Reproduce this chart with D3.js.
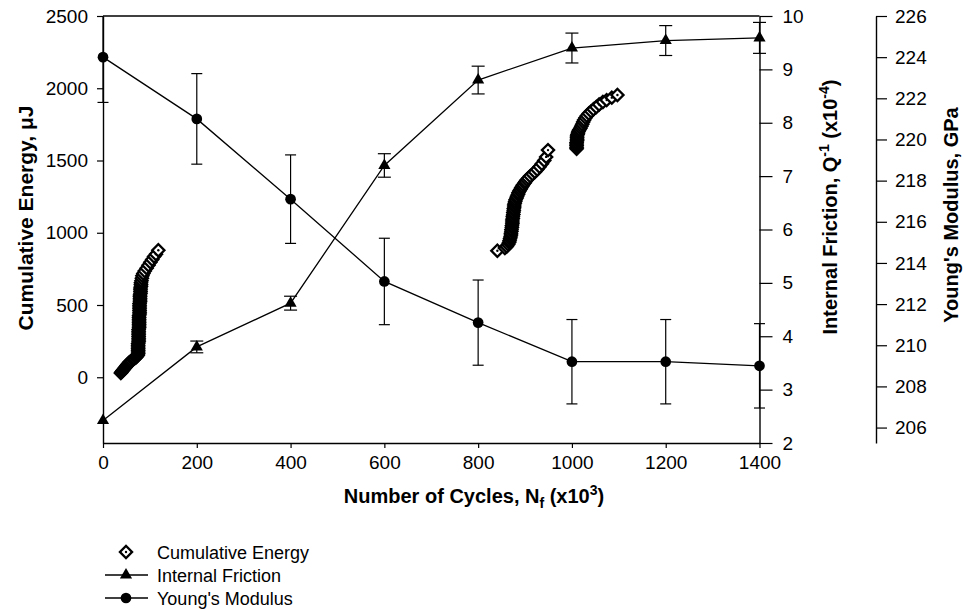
<!DOCTYPE html>
<html>
<head>
<meta charset="utf-8">
<script src="https://cdn.jsdelivr.net/npm/d3@7"></script>
<style>
  body { margin: 0; background: #fff; }
  svg text { font-family: "Liberation Sans", Arial, sans-serif; fill: #000; }
</style>
</head>
<body>
<svg id="chart" width="964" height="609"></svg>
<script>
// test points at each cycle count (x10^3)
const cycles = [0, 200, 400, 600, 800, 1000, 1200, 1400];
const frictionVals = [2.42, 3.80, 4.62, 7.20, 8.80, 9.40, 9.54, 9.59];
const frictionErr = [0, 0.11, 0.13, 0.22, 0.26, 0.28, 0.28, 0.29];
const modulusVals = [224.0, 221.0, 217.1, 213.1, 211.1, 209.2, 209.2, 209.0];
const modulusErr = [2.2, 2.2, 2.15, 2.1, 2.07, 2.05, 2.05, 2.05];

// cumulative energy (cycles x10^3, uJ), three bursts
const energyRun1 = [
  [38,30],[40,38],[42,46],[44,54],[46,62],[48,70],[50,78],[52,86],[54,94],[56,102],
  [58,108],[61,115],[64,122],[67,129],[70,136],[72,143],[74,152],
  [75,162],[75,174],[75,186],[75,198],[75,210],[75,222],[75,234],[76,246],[76,258],[76,270],
  [76,282],[76,294],[76,306],[76,318],[76,330],[77,342],[77,354],[77,366],[77,378],[77,390],
  [77,402],[77,414],[77,426],[78,438],[78,450],[78,462],[78,474],[78,486],[78,498],[78,510],
  [79,522],[79,534],[79,546],[79,558],[79,570],[80,582],[80,594],[80,606],[80,618],[81,630],
  [81,642],[81,654],[82,668],[83,685],[84,702],[86,718],[89,735],[93,755],[97,775],[101,795],
  [105,815],[109,835],[113,852],[118,879]
];
const energyRun2 = [
  [841,875],[857,895],[861,905],[864,918],[866,932],[867,945],[868,958],[869,971],[870,984],
  [870,997],[871,1010],[871,1023],[872,1036],[872,1049],[873,1062],[873,1075],[873,1088],
  [874,1101],[874,1114],[875,1127],[875,1140],[876,1153],[876,1166],[877,1179],[877,1192],
  [878,1205],[879,1217],[880,1229],[882,1241],[883,1253],[885,1265],[886,1277],[888,1289],
  [890,1300],[892,1311],[894,1322],[896,1333],[899,1344],[901,1355],[904,1366],[907,1378],
  [911,1392],[916,1406],[921,1421],[926,1438],[931,1457],[936,1478],[941,1500],[945,1525],
  [949,1572]
];
const energyRun3 = [
  [1010,1581],[1010,1592],[1010,1603],[1010,1614],[1010,1625],[1011,1636],[1011,1647],
  [1011,1658],[1011,1669],[1012,1680],[1013,1691],[1014,1702],[1016,1713],[1018,1724],
  [1020,1737],[1022,1751],[1024,1766],[1026,1780],[1029,1795],[1032,1810],[1036,1825],
  [1041,1840],[1046,1855],[1052,1870],[1058,1887],[1066,1905],[1074,1918],[1085,1935],
  [1097,1953]
];

const energyTicks = [0, 500, 1000, 1500, 2000, 2500];
const frictionTicks = [2, 3, 4, 5, 6, 7, 8, 9, 10];
const modulusTicks = [206, 208, 210, 212, 214, 216, 218, 220, 222, 224, 226];
const cycleTicks = [0, 200, 400, 600, 800, 1000, 1200, 1400];

const legendItems = ["Cumulative Energy", "Internal Friction", "Young's Modulus"];

const svg = d3.select("#chart");
const pLeft = 103, pRight = 759.5, pTop = 16, pBottom = 443;
const fmt = d3.format("d");

let x = d3.scaleLinear().domain([0, 1400]).range([pLeft, pRight]);
let yE = d3.scaleLinear().domain([-455, 2500]).range([pBottom, pTop]);
let yF = d3.scaleLinear().domain([2, 10]).range([pBottom, pTop]);
let yM = d3.scaleLinear().domain([205.25, 226]).range([pBottom, pTop]);

function styleAxis(g) {
  g.selectAll("path.domain").attr("stroke", "#000").attr("stroke-width", 1.4);
  g.selectAll(".tick line").attr("stroke", "#000").attr("stroke-width", 1.2);
  g.selectAll(".tick text")
    .style("font-family", "Liberation Sans, Arial, sans-serif")
    .style("font-size", "19px")
    .attr("fill", "#000");
}

// frame top
svg.append("line")
  .attr("x1", pLeft).attr("x2", pRight).attr("y1", pTop).attr("y2", pTop)
  .attr("stroke", "#000").attr("stroke-width", 1.4);

svg.append("g")
  .attr("transform", `translate(0,${pBottom})`)
  .call(d3.axisBottom(x).tickValues(cycleTicks).tickFormat(fmt).tickSize(5).tickSizeOuter(0).tickPadding(8))
  .call(styleAxis);

svg.append("g")
  .attr("transform", `translate(${pLeft},0)`)
  .call(d3.axisLeft(yE).tickValues(energyTicks).tickFormat(fmt).tickSize(6).tickSizeOuter(0).tickPadding(9))
  .call(styleAxis);

svg.append("g")
  .attr("transform", `translate(${pRight},0)`)
  .call(d3.axisRight(yF).tickValues(frictionTicks).tickFormat(fmt).tickSize(13).tickSizeOuter(0).tickPadding(10))
  .call(styleAxis);

svg.append("g")
  .attr("transform", "translate(876,0)")
  .call(d3.axisRight(yM).tickValues(modulusTicks).tickFormat(fmt).tickSize(11).tickSizeOuter(0).tickPadding(8))
  .call(styleAxis);

// axis titles
svg.append("text")
  .attr("transform", "translate(33,218) rotate(-90)")
  .attr("text-anchor", "middle")
  .style("font-size", "21px").style("font-weight", "bold")
  .text("Cumulative Energy, \u03bcJ");

let tF = svg.append("text")
  .attr("transform", "translate(837,207) rotate(-90)")
  .attr("text-anchor", "middle")
  .style("font-size", "20px").style("font-weight", "bold");
tF.append("tspan").text("Internal Friction, Q");
tF.append("tspan").attr("dy", -8).style("font-size", "14px").text("-1");
tF.append("tspan").attr("dy", 8).text(" (x10");
tF.append("tspan").attr("dy", -8).style("font-size", "14px").text("-4");
tF.append("tspan").attr("dy", 8).text(")");

svg.append("text")
  .attr("transform", "translate(958,215) rotate(-90)")
  .attr("text-anchor", "middle")
  .style("font-size", "20px").style("font-weight", "bold")
  .text("Young's Modulus, GPa");

let tX = svg.append("text")
  .attr("x", 474).attr("y", 503)
  .attr("text-anchor", "middle")
  .style("font-size", "20px").style("font-weight", "bold");
tX.append("tspan").text("Number of Cycles, N");
tX.append("tspan").attr("dy", 5).style("font-size", "14px").text("f");
tX.append("tspan").attr("dy", -5).text(" (x10");
tX.append("tspan").attr("dy", -8).style("font-size", "14px").text("3");
tX.append("tspan").attr("dy", 8).text(")");

// clip so bars stay inside the frame vertically
svg.append("clipPath").attr("id", "plotClip")
  .append("rect").attr("x", 80).attr("y", pTop).attr("width", 720).attr("height", pBottom - pTop);

let plot = svg.append("g").attr("clip-path", "url(#plotClip)");

function drawErrorBars(g, vals, errs, yScale, capW) {
  for (var i = 0; i < cycles.length; i++) {
    if (errs[i] <= 0) continue;
    let cx = x(cycles[i]);
    let y1 = yScale(vals[i] - errs[i]);
    let y2 = yScale(vals[i] + errs[i]);
    g.append("line").attr("x1", cx).attr("x2", cx).attr("y1", y1).attr("y2", y2)
      .attr("stroke", "#000").attr("stroke-width", 1.2);
    g.append("line").attr("x1", cx - capW / 2).attr("x2", cx + capW / 2).attr("y1", y1).attr("y2", y1)
      .attr("stroke", "#000").attr("stroke-width", 1.2);
    g.append("line").attr("x1", cx - capW / 2).attr("x2", cx + capW / 2).attr("y1", y2).attr("y2", y2)
      .attr("stroke", "#000").attr("stroke-width", 1.2);
  }
}

drawErrorBars(plot, modulusVals, modulusErr, yM, 11);
drawErrorBars(plot, frictionVals, frictionErr, yF, 13);

// lines
let lineF = d3.line().x((d, i) => x(cycles[i])).y(d => yF(d));
let lineM = d3.line().x((d, i) => x(cycles[i])).y(d => yM(d));

plot.append("path").attr("d", lineM(modulusVals))
  .attr("fill", "none").attr("stroke", "#000").attr("stroke-width", 1.3);
plot.append("path").attr("d", lineF(frictionVals))
  .attr("fill", "none").attr("stroke", "#000").attr("stroke-width", 1.3);

const triSym = d3.symbol().type(d3.symbolTriangle).size(64);
const circSym = d3.symbol().type(d3.symbolCircle).size(90);
const diamSym = d3.symbol().type(d3.symbolSquare).size(74);

svg.selectAll(".tri").data(frictionVals).enter().append("path")
  .attr("class", "tri")
  .attr("d", triSym)
  .attr("transform", (d, i) => `translate(${x(cycles[i])},${yF(d)})`)
  .attr("fill", "#000");

svg.selectAll(".circ").data(modulusVals).enter().append("path")
  .attr("class", "circ")
  .attr("d", circSym)
  .attr("transform", (d, i) => `translate(${x(cycles[i])},${yM(d)})`)
  .attr("fill", "#000");

// cumulative energy diamonds (open with center dot)
function drawDiamond(g, cx, cy) {
  let m = g.append("g").attr("transform", `translate(${cx},${cy})`);
  m.append("path").attr("d", diamSym).attr("transform", "rotate(45)")
    .attr("fill", "#fff").attr("stroke", "#000").attr("stroke-width", 2.3);
  m.append("circle").attr("r", 1.2).attr("fill", "#000");
}

for (var run of [energyRun1, energyRun2, energyRun3]) {
  for (var p of run) {
    drawDiamond(svg, x(p[0]), yE(p[1]));
  }
}

// legend
let legY = [552, 575, 598];
drawDiamond(svg, 126, legY[0]);
for (var k = 1; k < 3; k++) {
  svg.append("line").attr("x1", 105).attr("x2", 148).attr("y1", legY[k]).attr("y2", legY[k])
    .attr("stroke", "#000").attr("stroke-width", 1.3);
}
svg.append("path").attr("d", triSym).attr("transform", `translate(126,${legY[1]})`).attr("fill", "#000");
svg.append("path").attr("d", circSym).attr("transform", `translate(126,${legY[2]})`).attr("fill", "#000");

legendItems.forEach((t, i) => {
  svg.append("text")
    .attr("x", 157).attr("y", legY[i] + 6.5)
    .style("font-size", "18px")
    .text(t);
});
</script>
</body>
</html>
